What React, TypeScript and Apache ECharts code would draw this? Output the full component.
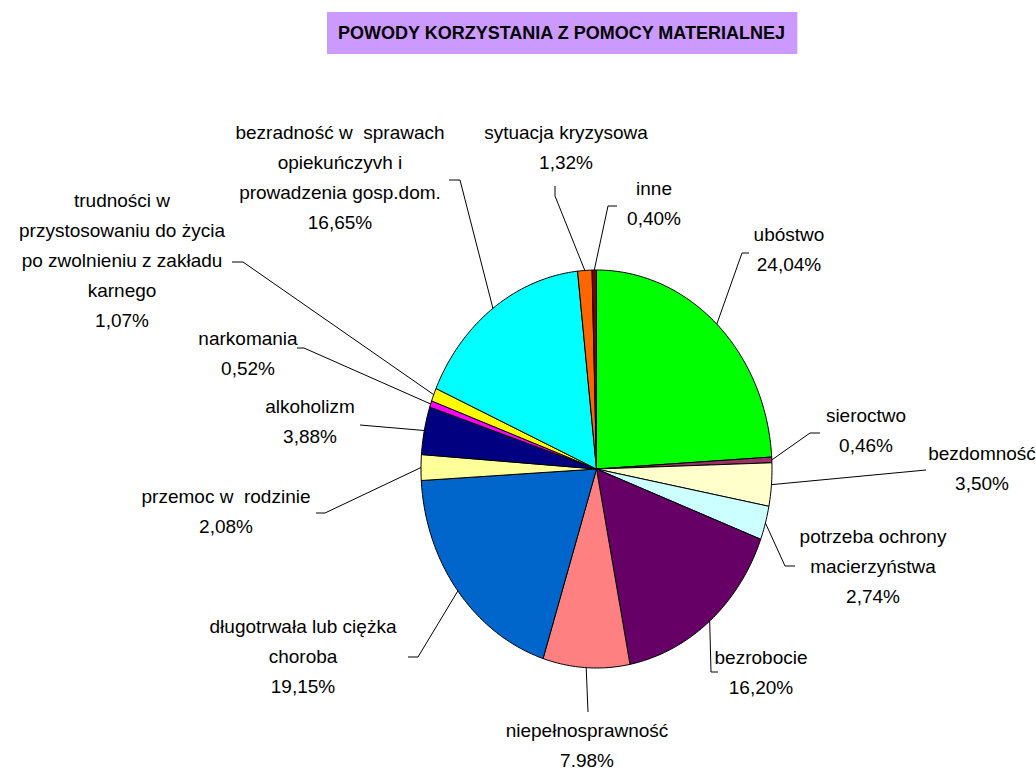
import React, { useEffect, useRef } from "react";
import * as echarts from "echarts";

const titleText = "POWODY KORZYSTANIA Z POMOCY MATERIALNEJ";

const categories = [
  "ubóstwo",
  "sieroctwo",
  "bezdomność",
  "potrzeba ochrony\nmacierzyństwa",
  "bezrobocie",
  "niepełnosprawność",
  "długotrwała lub ciężka\nchoroba",
  "przemoc w  rodzinie",
  "alkoholizm",
  "narkomania",
  "trudności w\nprzystosowaniu do życia\npo zwolnieniu z zakładu\nkarnego",
  "bezradność w  sprawach\nopiekuńczyvh i\nprowadzenia gosp.dom.",
  "sytuacja kryzysowa",
  "inne",
];

const values = [24.04, 0.46, 3.5, 2.74, 16.2, 7.98, 19.15, 2.08, 3.88, 0.52, 1.07, 16.65, 1.32, 0.4];

const percentLabels = [
  "24,04%", "0,46%", "3,50%", "2,74%", "16,20%", "7.98%", "19,15%",
  "2,08%", "3,88%", "0,52%", "1,07%", "16,65%", "1,32%", "0,40%",
];

const colors = [
  "#00FF00", "#993366", "#FFFFCC", "#CCFFFF", "#660066", "#FF8080", "#0066CC",
  "#FFFF99", "#000080", "#FF00FF", "#FFFF00", "#00FFFF", "#FF6600", "#800000",
];

// pie geometry (elliptical, as in the original)
const CX = 596.5;
const CY = 469;
const RX = 175.5;
const RY = 199;

// label placement: label block centre and leader-line bend points
const labelCenters: number[][] = [
  [789, 249], [866, 430], [982, 468], [873, 566], [761, 672], [587, 745], [303, 656],
  [226, 511], [310, 421], [248, 353], [122, 260], [340, 177], [566, 147], [654, 203],
];
const leaderPoints: number[][][] = [
  [[742, 253], [749, 253]],
  [[810, 433], [820, 433]],
  [[926, 470]],
  [[785, 566], [795, 566]],
  [[711, 672], [718, 672]],
  [[588, 712]],
  [[418, 657], [408, 657]],
  [[325, 513], [316, 513]],
  [[360, 425]],
  [[304, 348], [297, 348]],
  [[243, 262], [232, 262]],
  [[460, 180], [449, 180]],
  [[555, 196], [555, 186]],
  [[608, 206], [617, 206]],
];

const total = values.reduce((a, b) => a + b, 0);
const cumulative: number[] = [];
values.reduce((acc, v, i) => {
  cumulative[i] = acc;
  return acc + v;
}, 0);

function ellipsePoint(frac: number): number[] {
  const t = frac * Math.PI * 2;
  return [CX + RX * Math.sin(t), CY - RY * Math.cos(t)];
}

export default function App() {
  const ref = useRef<HTMLDivElement>(null);
  useEffect(() => {
    if (!ref.current) return;
    const chart = echarts.init(ref.current, undefined, { renderer: "svg" });
    chart.setOption({
      animation: false,
      backgroundColor: "#ffffff",
      title: {
        text: titleText,
        left: 327,
        top: 12,
        padding: [12, 11],
        backgroundColor: "#CC99FF",
        textStyle: {
          fontFamily: "Liberation Sans, Arial, sans-serif",
          fontWeight: "bold",
          fontSize: 18,
          lineHeight: 18,
          color: "#000",
        },
      },
      series: [
        {
          type: "custom",
          coordinateSystem: "none",
          data: values.map((v) => [v]),
          renderItem: (params: any, api: any) => {
            const i = params.dataIndex;
            const v = api.value(0) as number;
            const f0 = cumulative[i] / total;
            const f1 = (cumulative[i] + v) / total;
            const steps = Math.max(2, Math.ceil((f1 - f0) * 360));
            const pts: number[][] = [[CX, CY]];
            for (let k = 0; k <= steps; k++) {
              pts.push(ellipsePoint(f0 + ((f1 - f0) * k) / steps));
            }
            const mid = ellipsePoint((f0 + f1) / 2);
            const linePts = [mid, ...leaderPoints[i]];
            const c = labelCenters[i];
            return {
              type: "group",
              children: [
                {
                  type: "polygon",
                  shape: { points: pts },
                  style: { fill: colors[i], stroke: "#000", lineWidth: 1 },
                },
                {
                  type: "polyline",
                  shape: { points: linePts },
                  style: { stroke: "#000", lineWidth: 1, fill: null },
                },
                {
                  type: "text",
                  x: c[0],
                  y: c[1],
                  style: {
                    text: categories[i] + "\n" + percentLabels[i],
                    align: "center",
                    verticalAlign: "middle",
                    fontFamily: "Liberation Sans, Arial, sans-serif",
                    fontSize: 19,
                    lineHeight: 30,
                    fill: "#000",
                  },
                },
              ],
            };
          },
        },
      ],
    });
    return () => chart.dispose();
  }, []);
  return (
    <div
      ref={ref}
      style={{ position: "fixed", left: 0, top: 0, width: 1036, height: 769 }}
    />
  );
}
